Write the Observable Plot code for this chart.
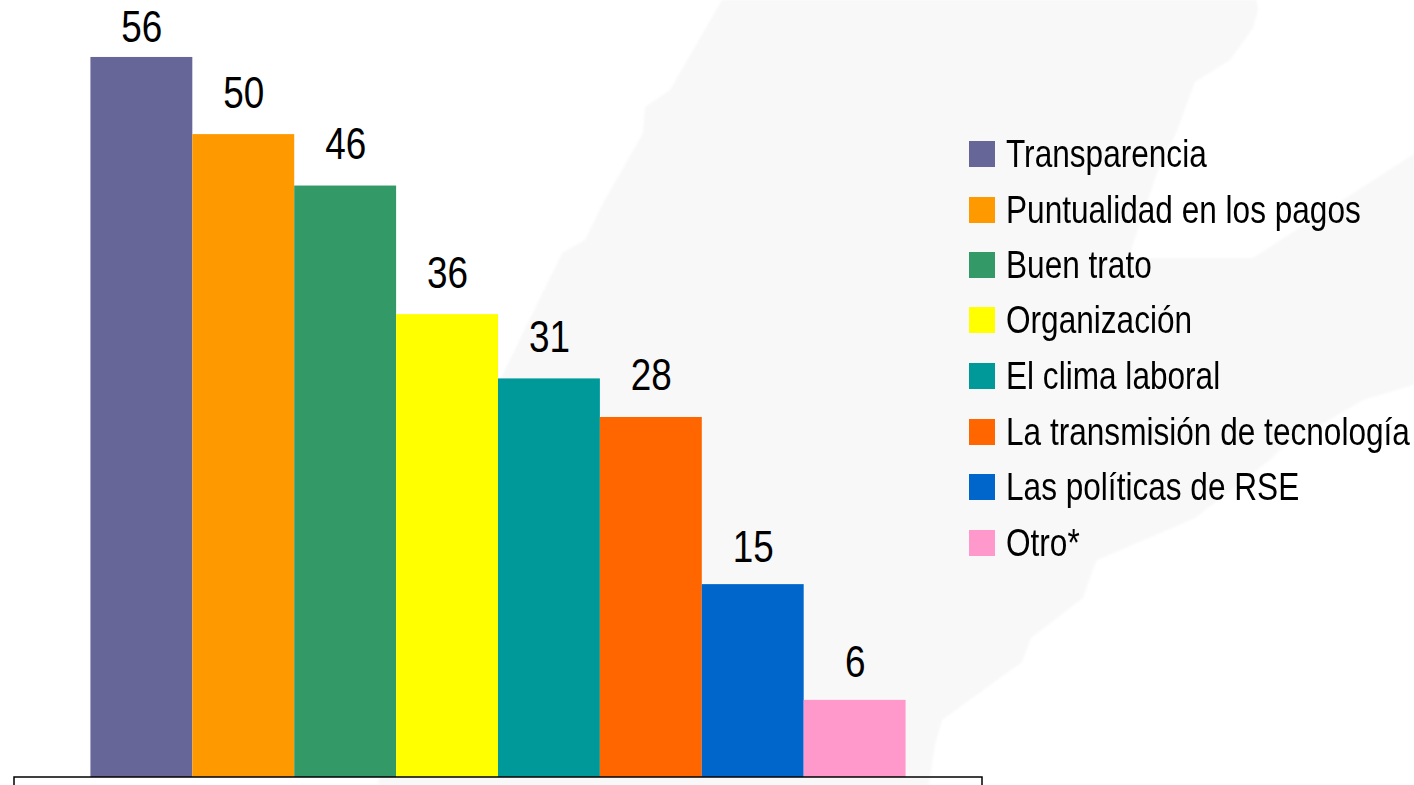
<!DOCTYPE html>
<html><head><meta charset="utf-8">
<script src="https://cdn.jsdelivr.net/npm/d3@7"></script>
<script src="https://cdn.jsdelivr.net/npm/@observablehq/plot@0.6"></script>
<style>
html,body{margin:0;padding:0;background:#fff;overflow:hidden;width:1414px;height:785px}
#bgwrap{position:absolute;left:0;top:0;width:1414px;height:785px;filter:blur(1.2px)}
#bg{position:absolute;left:0;top:0;width:1414px;height:785px;background:#f8f8f8;
clip-path:polygon(725px -5px,1256px -5px,1258px 10px,1253px 28px,1230px 60px,1195px 82px,1176px 133px,1157px 173px,1132px 247px,1132px 258px,1253px 258px,1420px 150px,1420px 383px,1363px 400px,1283px 447px,1270px 460px,1195px 518px,1097px 560px,1092px 572px,1083px 598px,1031px 638px,1022px 662px,942px 720px,935px 745px,928px 790px,376px 790px,500px 380px,562px 253px,585px 240px,603px 203px,643px 133px,645px 107px,670px 90px)}
#chart{position:absolute;left:0;top:0}
#chart svg{background:transparent;display:block}
#legend{position:absolute;left:969px;top:0;font-family:"Liberation Sans",sans-serif;font-size:39px;color:#000}
.row{position:absolute;left:0;white-space:nowrap;height:26px;line-height:26px}
.sw{position:absolute;left:0;top:0;width:26px;height:26px}
.lb{position:absolute;left:37px;top:-0.5px;transform:scaleX(.81);transform-origin:left center}
</style></head><body>
<div id="bgwrap"><div id="bg"></div></div><div id="chart"></div><div id="legend"></div>
<script>
const categories=["Transparencia","Puntualidad en los pagos","Buen trato","Organización","El clima laboral","La transmisión de tecnología","Las políticas de RSE","Otro*"];
const values=[56,50,46,36,31,28,15,6];
const colors=["#666699","#FF9900","#339966","#FFFF00","#009999","#FF6600","#0066CC","#FF99CC"];
const rows=categories.map((c,i)=>({c,v:values[i]}));
const labelFont={x:"c",y:"v",text:d=>String(d.v),lineAnchor:"bottom",fill:"#000",
  fontFamily:"Liberation Sans, sans-serif",fontSize:45};
const plot=Plot.plot({
  width:1414,height:785,marginTop:0,marginBottom:8,marginLeft:14,marginRight:432,
  style:{background:"transparent",overflow:"hidden"},
  x:{type:"band",domain:categories,paddingInner:0,paddingOuter:0.75,align:0.5,round:false,axis:null},
  y:{domain:[0,60.43],axis:null},
  color:{domain:categories,range:colors},
  marks:[
    Plot.barY(rows,{x:"c",y:"v",fill:"c"}),
    Plot.rect([0],{y1:0,y2:-3,stroke:"#000",strokeWidth:1.5,fill:"none"}),
    Plot.text(rows,{...labelFont,filter:d=>d.v===56,dy:-15}),
    Plot.text(rows,{...labelFont,filter:d=>d.v<56&&d.v>=28,dy:-27}),
    Plot.text(rows,{...labelFont,filter:d=>d.v<28,dy:-23})
  ]
});
plot.querySelectorAll("text").forEach(t=>{
  const tr=t.getAttribute("transform");
  if(tr) t.setAttribute("transform",tr+" scale(.82,1)");
  else { const x=+t.getAttribute("x")||0; t.setAttribute("transform",`translate(${x},0) scale(.82,1) translate(${-x},0)`); }
});
document.getElementById("chart").append(plot);
const tops=[141,197,252,307,363,419,474,530];
const L=document.getElementById("legend");
categories.forEach((c,i)=>{
  const r=document.createElement("div");r.className="row";r.style.top=tops[i]+"px";
  const s=document.createElement("div");s.className="sw";s.style.background=colors[i];
  const t=document.createElement("div");t.className="lb";t.textContent=c;
  r.append(s,t);L.append(r);
});
</script></body></html>
